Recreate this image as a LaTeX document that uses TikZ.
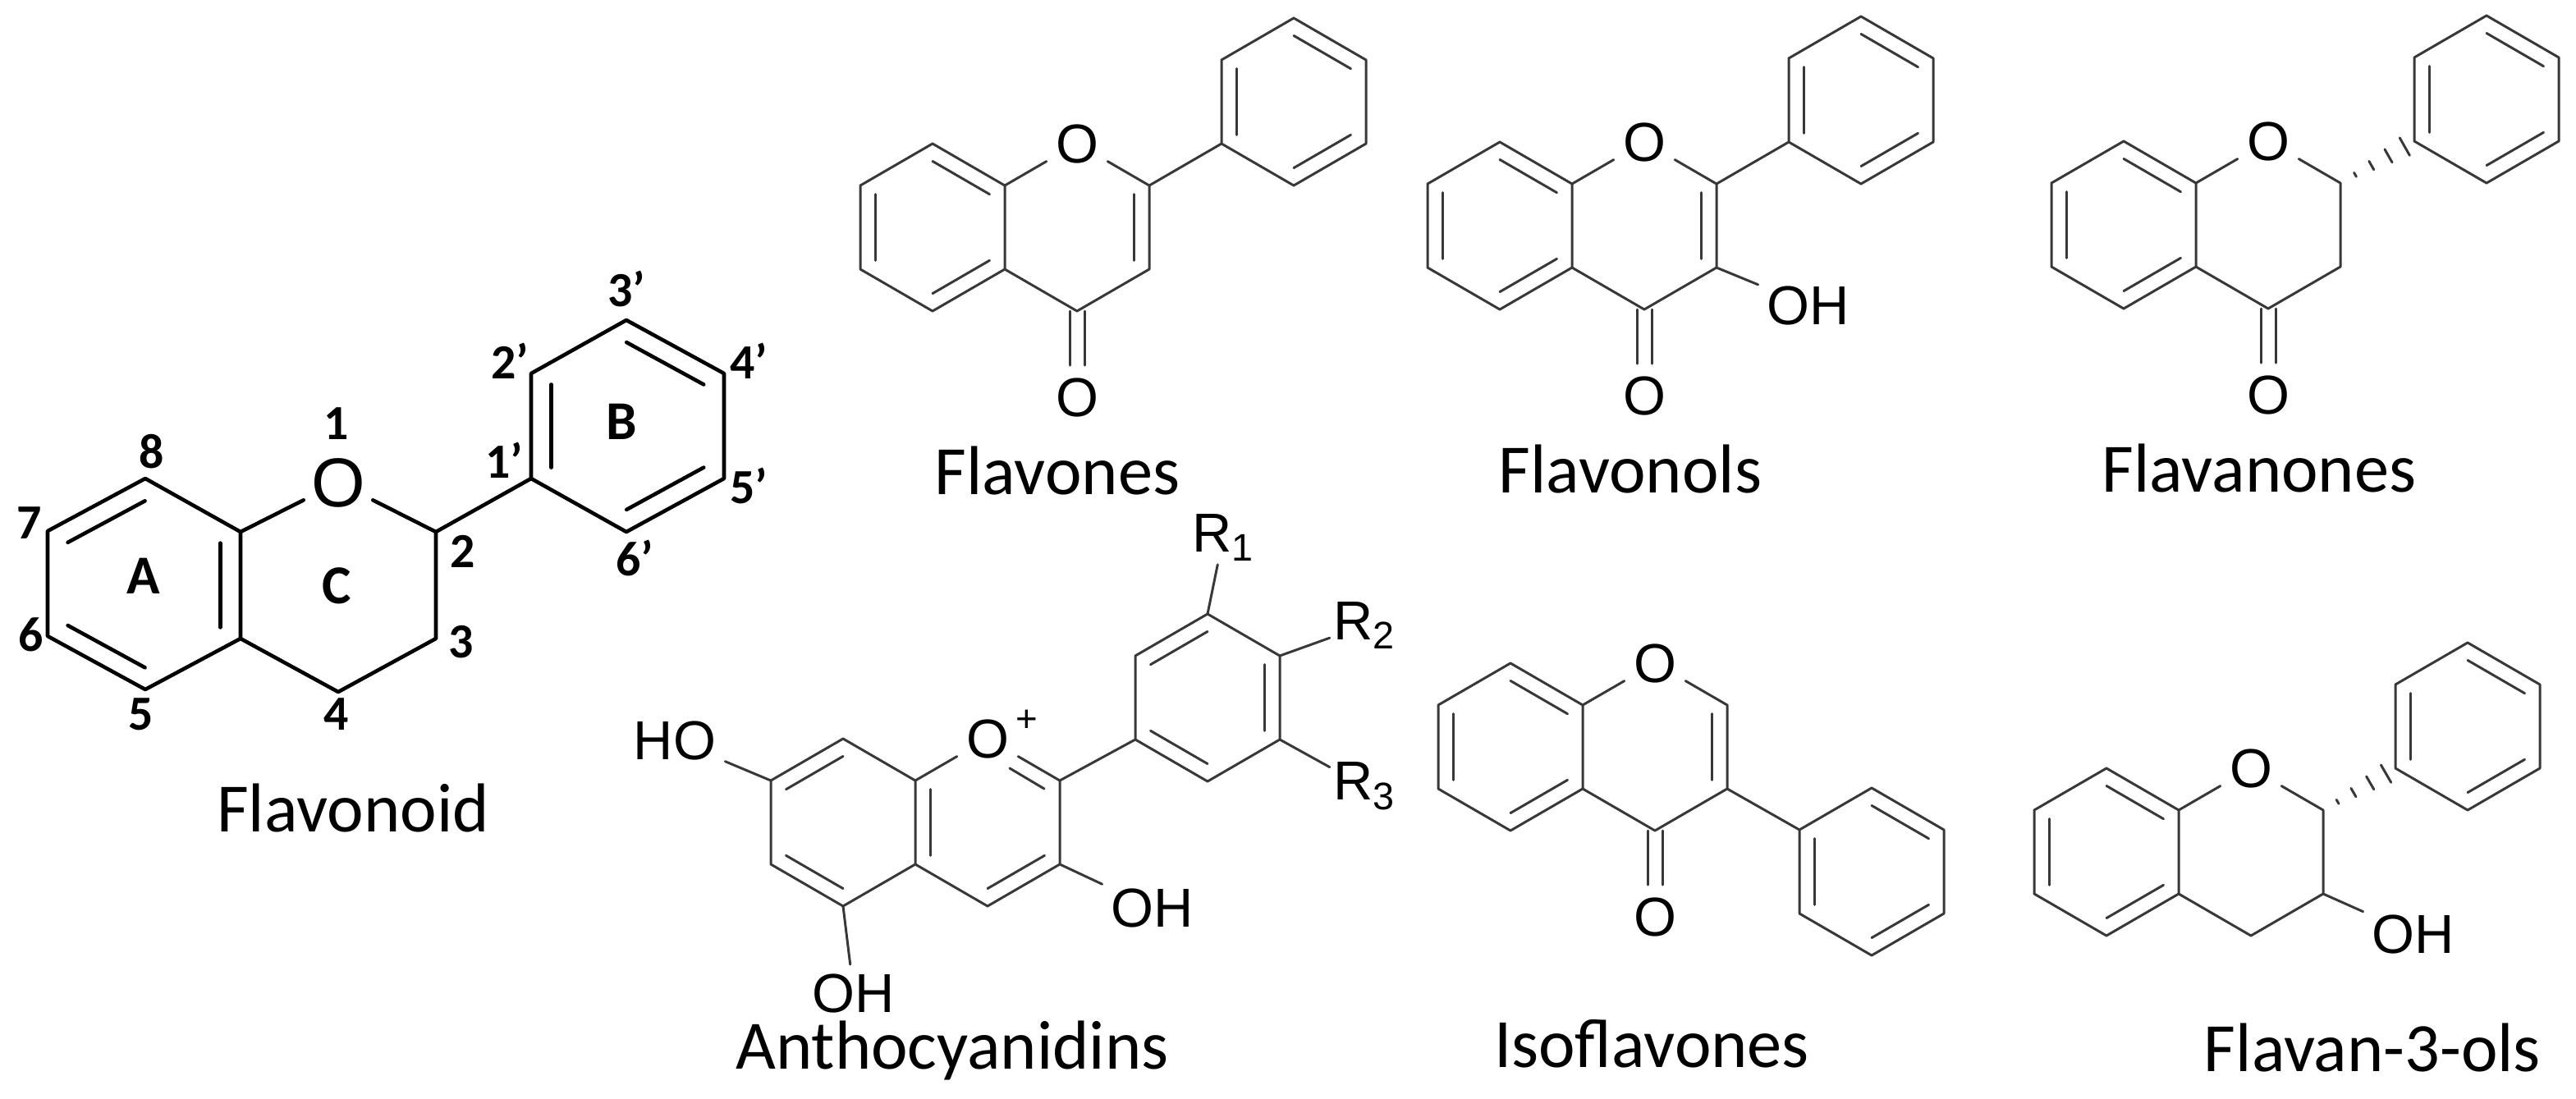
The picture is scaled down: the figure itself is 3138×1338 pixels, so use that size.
\documentclass[tikz,border=0pt]{standalone}
\usepackage{fontspec}
\setmainfont{Carlito}
\newfontfamily\arial{Liberation Sans}
\usetikzlibrary{calc}
\newcommand\skel[3]{\begin{scope}[shift={(#2,#3)}]
\coordinate (#1o) at (0,0); \coordinate (#1c2) at (88,51); \coordinate (#1c3) at (88,153);
\coordinate (#1c4) at (0,204); \coordinate (#1c4a) at (-88,153); \coordinate (#1c8a) at (-88,51);
\coordinate (#1c5) at (-176,204); \coordinate (#1c6) at (-264,153); \coordinate (#1c7) at (-264,51);
\coordinate (#1c8) at (-176,0); \coordinate (#1cc) at (0,102); \coordinate (#1ca) at (-176,102);
\end{scope}}
\newcommand\phen[3]{\begin{scope}[shift={(#2,#3)}]
\coordinate (#1t) at (0,-102); \coordinate (#1ur) at (88,-51); \coordinate (#1lr) at (88,51);
\coordinate (#1b) at (0,102); \coordinate (#1ll) at (-88,51); \coordinate (#1ul) at (-88,-51);
\coordinate (#1c) at (0,0);
\end{scope}}
\newcommand\inl[4][bnd]{\draw[#1] ($(#2)!0.21!(#4)$) -- ($(#3)!0.21!(#4)$);}
\newcommand\hexring[1]{\draw[bnd] (#1t)--(#1ur)--(#1lr)--(#1b)--(#1ll)--(#1ul)--cycle;}
\newcommand\phdbl[1]{\inl{#1ll}{#1ul}{#1c}\inl{#1t}{#1ur}{#1c}\inl{#1lr}{#1b}{#1c}}
\newcommand\chrom[1]{\node[atom] (#1O) at (#1o) {O};
 \draw[bnd] (#1c8a)--(#1c8)--(#1c7)--(#1c6)--(#1c5)--(#1c4a)--cycle;
 \draw[bnd] (#1c8a)--(#1O)--(#1c2)--(#1c3)--(#1c4)--(#1c4a);}
\newcommand\adbl[1]{\inl{#1c8}{#1c8a}{#1ca}\inl{#1c6}{#1c7}{#1ca}\inl{#1c4a}{#1c5}{#1ca}}
\newcommand\carb[1]{\node[atom] (#1K) at ($(#1c4)+(0,105)$) {O};
 \draw[bnd] ($(#1c4)+(-9,0)$) -- ($(#1c4)+(-9,66)$); \draw[bnd] ($(#1c4)+(9,0)$) -- ($(#1c4)+(9,66)$);}
\newcommand\hash[2]{\foreach \t/\w in {0.2/0.8,0.42/1.7,0.65/2.6,0.87/3.5}{%
 \coordinate (hh) at ($(#1)!\t!(#2)$);
 \draw[bnd] ($(hh)!\w pt!90:(#2)$) -- ($(hh)!\w pt!-90:(#2)$);}}
\begin{document}
\begin{tikzpicture}[x=0.01cm,y=-0.01cm,
 bnd/.style={line width=0.85pt,draw=black!78,line cap=round,line join=round},
 bbnd/.style={line width=1.3pt,draw=black,line cap=round,line join=round},
 atom/.style={font=\arial\fontsize{19}{19}\selectfont,inner sep=3pt},
 batom/.style={font=\arial\fontsize{24}{24}\selectfont,inner sep=2.5pt},
 num/.style={font=\bfseries\fontsize{17}{17}\selectfont,inner sep=0pt},
 ringlab/.style={font=\bfseries\fontsize{19}{19}\selectfont,inner sep=0pt},
 title/.style={font=\fontsize{24}{24}\selectfont,inner sep=0pt}]
\useasboundingbox (0,0) rectangle (3138,1338);
% ---------- Flavonoid ----------
\coordinate (fc2) at (531,648); \coordinate (fc3) at (531,778); \coordinate (fc4) at (412,843);
\coordinate (fc4a) at (293,778); \coordinate (fc8a) at (293,648); \coordinate (fc5) at (177,840);
\coordinate (fc6) at (58,775); \coordinate (fc7) at (58,647); \coordinate (fc8) at (177,583);
\coordinate (fA) at (175,713);
\coordinate (f1p) at (647,583); \coordinate (f2p) at (647,455); \coordinate (f3p) at (763,390);
\coordinate (f4p) at (882,455); \coordinate (f5p) at (882,583); \coordinate (f6p) at (763,648);
\coordinate (fB) at (764,519);
\node[batom] (fO) at (412,588) {O};
\draw[bbnd] (fc8a)--(fc8)--(fc7)--(fc6)--(fc5)--(fc4a)--cycle;
\draw[bbnd] (fc8a)--(fO)--(fc2)--(fc3)--(fc4)--(fc4a);
\draw[bbnd] (fc2)--(f1p);
\draw[bbnd] (f1p)--(f2p)--(f3p)--(f4p)--(f5p)--(f6p)--cycle;
\inl[bbnd]{fc7}{fc8}{fA}\inl[bbnd]{fc5}{fc6}{fA}\inl[bbnd]{fc4a}{fc8a}{fA}
\inl[bbnd]{f1p}{f2p}{fB}\inl[bbnd]{f3p}{f4p}{fB}\inl[bbnd]{f5p}{f6p}{fB}
\node[num] (n8) at (185,550) {8}; \node[num] (n7) at (36,637) {7};
\node[num] (n6) at (38,773) {6}; \node[num] (n5) at (172,870) {5};
\node[num] (n1) at (410,516) {1}; \node[num] (n4) at (410,870) {4};
\node[num] (n3) at (562,782) {3}; \node[num] (n2) at (564,672) {2};
\node[num] (n1p) at (614,561) {1’}; \node[num] (n2p) at (621,440) {2’};
\node[num] (n3p) at (763,352) {3’}; \node[num] (n4p) at (912,440) {4’};
\node[num] (n5p) at (912,592) {5’}; \node[num] (n6p) at (773,680) {6’};
\node[ringlab] (rA) at (175,702) {A}; \node[ringlab] (rB) at (757,514) {B};
\node[ringlab] (rC) at (410,714) {C};
\node[title] (tFlavonoid) at (430,984) {Flavonoid};
% ---------- Flavones ----------
\skel{a}{1312}{175}\phen{ap}{1576}{124}
\chrom{a}\adbl{a}\inl{ac2}{ac3}{acc}\carb{a}
\draw[bnd] (ac2)--(apll); \hexring{ap}\phdbl{ap}
\node[title] (tFlavones) at (1288,573) {Flavones};
% ---------- Flavonols ----------
\skel{b}{2003}{173}\phen{bp}{2267}{122}
\chrom{b}\adbl{b}\inl{bc2}{bc3}{bcc}\carb{b}
\draw[bnd] (bc2)--(bpll); \hexring{bp}\phdbl{bp}
\node[atom] (bOH) at (2203,372) {OH}; \draw[bnd] (bc3)--(bOH);
\node[title] (tFlavonols) at (1986,571) {Flavonols};
% ---------- Flavanones ----------
\skel{c}{2763}{172}\phen{cp}{3029}{121}
\chrom{c}\adbl{c}\carb{c}
\hexring{cp}\phdbl{cp}\hash{cc2}{cpll}
\node[title] (tFlavanones) at (2752,570) {Flavanones};
% ---------- Anthocyanidins ----------
\skel{d}{1203}{900}\phen{dp}{1471}{850}
\node[atom] (dO) at (do) {O};
\node[font=\arial\fontsize{13}{13}\selectfont,inner sep=0pt] (dplus) at (1251,878) {+};
\draw[bnd] (dc8a)--(dc8)--(dc7)--(dc6)--(dc5)--(dc4a)--cycle;
\draw[bnd] (dc8a)--(dO)--(dc2)--(dc3)--(dc4)--(dc4a);
\inl{dc7}{dc8}{dca}\inl{dc5}{dc6}{dca}\inl{dc4a}{dc8a}{dcc}\inl{dc3}{dc4}{dcc}
\draw[bnd] (1230,936)--(1272,961);
\draw[bnd] (dc2)--(dpll); \hexring{dp}
\inl{dpt}{dpul}{dpc}\inl{dpll}{dpb}{dpc}\inl{dpur}{dplr}{dpc}
\node[atom] (dHO) at (822,902) {HO}; \draw[bnd] (dc7)--(dHO);
\node[atom] (dOH5) at (1040,1210) {OH}; \draw[bnd] (dc5)--(dOH5);
\node[atom] (dOH3) at (1404,1106) {OH}; \draw[bnd] (dc3)--(dOH3);
\node[atom,inner sep=1pt] (R1) at (1490,655) {R\textsubscript{1}}; \draw[bnd] (dpt)--(R1);
\node[atom,inner sep=1pt] (R2) at (1662,762) {R\textsubscript{2}}; \draw[bnd] (dpur)--(R2);
\node[atom,inner sep=1pt] (R3) at (1662,958) {R\textsubscript{3}}; \draw[bnd] (dplr)--(R3);
\node[title] (tAntho) at (1160,1280) {Anthocyanidins};
% ---------- Isoflavones ----------
\skel{e}{2016}{808}\phen{ep}{2280}{1062}
\chrom{e}\adbl{e}\inl{ec2}{ec3}{ecc}\carb{e}
\draw[bnd] (ec3)--(epul); \hexring{ep}\phdbl{ep}
\node[title] (tIso) at (2012,1272) {Isoflavones};
% ---------- Flavan-3-ols ----------
\skel{g}{2742}{936}\phen{gp}{3006}{885}
\chrom{g}\adbl{g}
\hexring{gp}\phdbl{gp}\hash{gc2}{gpll}
\node[atom] (gOH) at (2940,1138) {OH}; \draw[bnd] (gc3)--(gOH);
\node[title] (tF3o) at (2890,1276) {Flavan-3-ols};
\end{tikzpicture}
\end{document}
